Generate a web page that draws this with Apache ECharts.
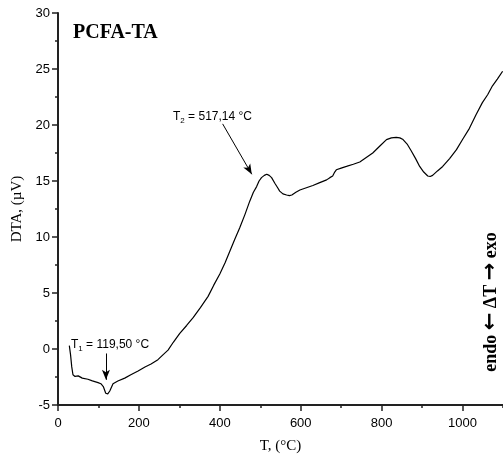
<!DOCTYPE html>
<html>
<head>
<meta charset="utf-8">
<script src="https://cdn.jsdelivr.net/npm/echarts@6/dist/echarts.min.js"></script>
<style>
    html, body { margin: 0; padding: 0; background: #fff; }
    #main { width: 503px; height: 457px; }
</style>
</head>
<body>
<div id="main"></div>
<script>
// DTA 曲线数据 (温度 °C, DTA µV)
var temps = [28, 31, 34, 37, 42, 50, 60, 74, 85, 99, 106, 112, 118, 123, 128, 136, 148, 165, 180, 198,
    215, 230, 247, 260, 272, 285, 301, 318, 334, 352, 371, 385, 400, 413, 425, 437, 449, 462, 474, 483,
    491, 497, 503, 510, 516, 522, 528, 536, 543, 548, 556, 565, 572, 578, 588, 598, 614, 630, 647, 664,
    672, 679, 684, 688, 700, 713, 730, 746, 762, 778, 795, 812, 824, 836, 845, 853, 863, 873, 884, 894,
    904, 914, 920, 926, 938, 951, 968, 985, 1000, 1017, 1033, 1049, 1062, 1074, 1086, 1099];
var dta = [0.3, -0.5, -1.6, -2.3, -2.45, -2.4, -2.6, -2.7, -2.85, -3.0, -3.1, -3.35, -3.95, -4.0, -3.75, -3.1, -2.86, -2.6, -2.3, -1.96,
    -1.6, -1.34, -0.95, -0.5, -0.1, 0.6, 1.4, 2.1, 2.8, 3.7, 4.7, 5.7, 6.7, 7.7, 8.75, 9.8, 10.8, 12.0, 13.2, 14.0,
    14.5, 15.0, 15.3, 15.5, 15.6, 15.5, 15.3, 14.8, 14.4, 14.1, 13.85, 13.75, 13.7, 13.75, 14.0, 14.2, 14.4, 14.6, 14.85, 15.1,
    15.3, 15.45, 15.8, 16.0, 16.15, 16.3, 16.5, 16.7, 17.1, 17.5, 18.1, 18.7, 18.85, 18.9, 18.85, 18.7, 18.3, 17.7, 17.0, 16.3,
    15.8, 15.45, 15.4, 15.5, 15.9, 16.3, 17.0, 17.8, 18.7, 19.7, 20.9, 22.0, 22.7, 23.5, 24.1, 24.8];

// 坐标轴刻度
var xMin = 0, xMax = 1100, xStep = 200;
var yMin = -5, yMax = 30, yStep = 5;

// 峰值标注箭头 [起点, 终点]
var arrowT1 = [[118.5, -0.4], [118.5, -2.75]];
var arrowT2 = [[407, 20.1], [479, 15.6]];

var points = [];
for (var i = 0; i < temps.length; i++) {
    points.push([temps[i], dta[i]]);
}

var chart = echarts.init(document.getElementById('main'));
var axisColor = '#222';
var labelStyle = { color: '#000', fontFamily: 'Liberation Sans', fontSize: 13 };
var plainNum = function (v) { return String(v); };

chart.setOption({
    animation: false,
    grid: { left: 58, right: 0, top: 13, bottom: 52, containLabel: false, outerBoundsMode: 'none' },
    xAxis: [
        {
            type: 'value',
            min: xMin,
            max: xMax,
            interval: xStep,
            name: 'T, (°C)',
            nameLocation: 'middle',
            nameGap: 34,
            nameTextStyle: { color: '#000', fontFamily: 'Liberation Serif', fontSize: 15 },
            axisLine: { onZero: false, lineStyle: { color: axisColor, width: 2 } },
            axisTick: { length: 6, lineStyle: { color: axisColor, width: 1.5 } },
            axisLabel: Object.assign({ margin: 12, showMaxLabel: false, formatter: plainNum }, labelStyle),
            splitLine: { show: false }
        },
        {
            // 次刻度
            type: 'value',
            min: xMin,
            max: xMax,
            interval: 100,
            position: 'bottom',
            axisLine: { show: false, onZero: false },
            axisTick: { length: 3, lineStyle: { color: axisColor, width: 1.5 } },
            axisLabel: { show: false },
            splitLine: { show: false }
        }
    ],
    yAxis: {
        type: 'value',
        min: yMin,
        max: yMax,
        interval: yStep,
        name: 'DTA, (µV)',
        nameLocation: 'middle',
        nameGap: 33,
        nameRotate: 90,
        nameTextStyle: { color: '#000', fontFamily: 'Liberation Serif', fontSize: 15 },
        axisLine: { show: true, onZero: false, lineStyle: { color: axisColor, width: 2 } },
        axisTick: { show: true, length: 6, lineStyle: { color: axisColor, width: 1.5 } },
        minorTick: { show: true, splitNumber: 2, length: 3, lineStyle: { color: axisColor, width: 1.5 } },
        axisLabel: Object.assign({ margin: 8, formatter: plainNum }, labelStyle),
        splitLine: { show: false }
    },
    series: [{
        type: 'line',
        data: points,
        showSymbol: false,
        lineStyle: { color: '#000', width: 1.2 },
        markLine: {
            silent: true,
            symbol: ['none', 'arrow'],
            symbolSize: [6, 10],
            label: { show: false },
            lineStyle: { color: '#000', width: 1, type: 'solid' },
            data: [
                [{ coord: arrowT1[0] }, { coord: arrowT1[1] }],
                [{ coord: arrowT2[0] }, { coord: arrowT2[1] }]
            ]
        }
    }],
    graphic: [
        {
            type: 'text',
            x: 73, y: 33,
            style: {
                text: 'PCFA-TA',
                font: 'bold 20px "Liberation Serif"',
                fill: '#000',
                verticalAlign: 'middle'
            }
        },
        {
            type: 'text',
            x: 71, y: 345,
            style: {
                text: '{a|T}{s|1}{a| = 119,50 °C}',
                verticalAlign: 'middle',
                rich: {
                    a: { fontFamily: 'Liberation Sans', fontSize: 12, fill: '#000' },
                    s: { fontFamily: 'Liberation Sans', fontSize: 8, fill: '#000', padding: [8, 0, 0, 0] }
                }
            }
        },
        {
            type: 'text',
            x: 173, y: 117,
            style: {
                text: '{a|T}{s|2}{a| = 517,14 °C}',
                verticalAlign: 'middle',
                rich: {
                    a: { fontFamily: 'Liberation Sans', fontSize: 12, fill: '#000' },
                    s: { fontFamily: 'Liberation Sans', fontSize: 8, fill: '#000', padding: [8, 0, 0, 0] }
                }
            }
        },
        {
            type: 'text',
            x: 491, y: 302,
            rotation: Math.PI / 2,
            style: {
                text: '{t|endo }{r|←}{t| ΔT }{r|→}{t| exo}',
                align: 'center',
                verticalAlign: 'middle',
                rich: {
                    t: { fontFamily: 'Liberation Serif', fontWeight: 'bold', fontSize: 18, fill: '#000' },
                    r: { fontFamily: 'DejaVu Sans', fontWeight: 'bold', fontSize: 21, fill: '#000' }
                }
            }
        }
    ]
});
</script>
</body>
</html>
